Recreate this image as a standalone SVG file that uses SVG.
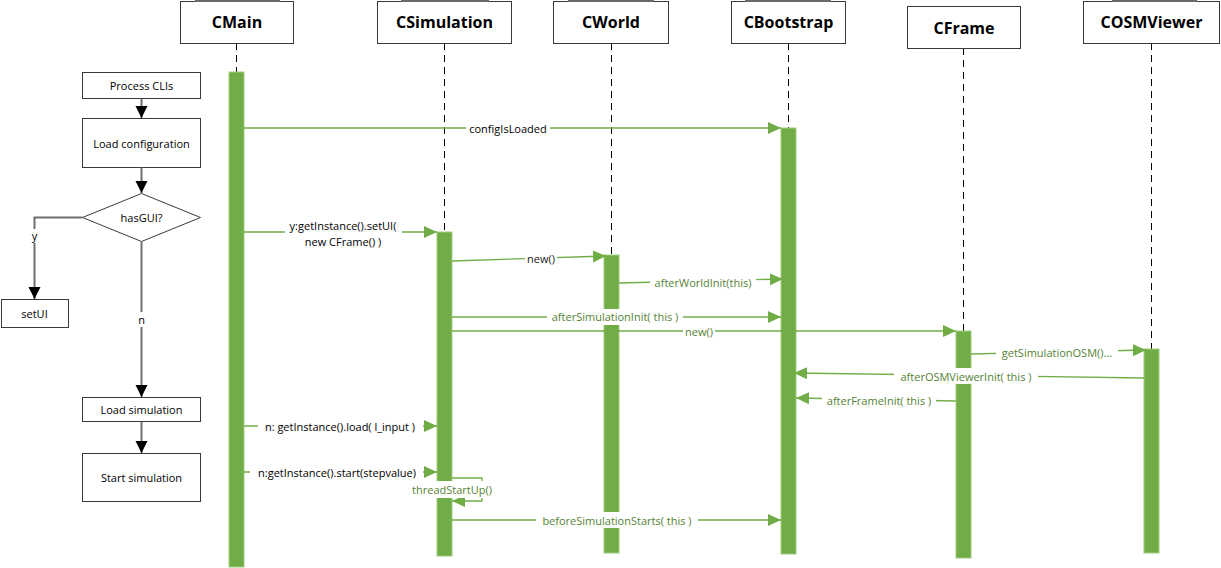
<svg xmlns="http://www.w3.org/2000/svg" width="1221" height="568" viewBox="0 0 1221 568">
<defs>
<style>
.hdr{fill:#fff;stroke:#3a3a3a;stroke-width:1}
.hdrtop{stroke:#6a6a6a;stroke-width:2}
.ht{font-family:"Open Sans","Noto Sans",sans-serif;font-weight:bold;font-size:16px;fill:#000;text-anchor:middle;dominant-baseline:central}
.life{stroke:#000;stroke-width:1;stroke-dasharray:7 5;fill:none}
.act{fill:#70ad47;stroke:#9fcd7f;stroke-width:1}
.msg{stroke:#70ad47;stroke-width:1.3;fill:none}
.lbg{fill:#fff}
.lt{font-family:"Open Sans","Noto Sans",sans-serif;font-size:11px;text-anchor:middle;dominant-baseline:central}
.blk{fill:#000}
.grn{fill:#548235}
.dk{fill:#222}
.fbox{fill:#fff;stroke:#3a3a3a;stroke-width:1}
.fline{stroke:#6f6f6f;stroke-width:2;fill:none}
.ft{font-family:"Open Sans","Noto Sans",sans-serif;font-size:11px;fill:#000;text-anchor:middle;dominant-baseline:central}
</style>
<marker id="ga" markerUnits="userSpaceOnUse" markerWidth="14" markerHeight="14" refX="13" refY="6" orient="auto">
<path d="M0,0 L13,6 L0,12 z" fill="#70ad47"/>
</marker>
<marker id="ba" markerUnits="userSpaceOnUse" markerWidth="14" markerHeight="14" refX="12" refY="6" orient="auto">
<path d="M0,0 L12,6 L0,12 z" fill="#000"/>
</marker>
</defs>
<rect x="0" y="0" width="1221" height="568" fill="#fff"/>

<g id="lifelines">
<line class="life" x1="236.5" y1="43" x2="236.5" y2="72"/>
<line class="life" x1="444.5" y1="43" x2="444.5" y2="232"/>
<line class="life" x1="611.5" y1="43" x2="611.5" y2="255"/>
<line class="life" x1="788.5" y1="43" x2="788.5" y2="128"/>
<line class="life" x1="963.5" y1="48" x2="963.5" y2="331"/>
<line class="life" x1="1151.5" y1="43" x2="1151.5" y2="349"/>
</g>

<g id="CMain">
<rect class="hdr" x="180.5" y="1.5" width="113" height="42"/>
<line class="hdrtop" x1="195" y1="1" x2="280" y2="1"/>
<text class="ht" x="237" y="22">CMain</text>
<rect class="act" x="229" y="72" width="15" height="495"/>
</g>
<g id="CSimulation">
<rect class="hdr" x="377.5" y="1.5" width="134" height="42"/>
<line class="hdrtop" x1="401" y1="1" x2="489" y2="1"/>
<text class="ht" x="444.5" y="22">CSimulation</text>
<rect class="act" x="437" y="232" width="15" height="324"/>
</g>
<g id="CWorld">
<rect class="hdr" x="553.5" y="1.5" width="115" height="42"/>
<line class="hdrtop" x1="568" y1="1" x2="654" y2="1"/>
<text class="ht" x="611" y="22">CWorld</text>
<rect class="act" x="604" y="255" width="15" height="298"/>
</g>
<g id="CBootstrap">
<rect class="hdr" x="731.5" y="1.5" width="114" height="42"/>
<line class="hdrtop" x1="745" y1="1" x2="831" y2="1"/>
<text class="ht" x="788.5" y="22">CBootstrap</text>
<rect class="act" x="781" y="128" width="15" height="426"/>
</g>
<g id="CFrame">
<rect class="hdr" x="907.5" y="6.5" width="113" height="42"/>
<text class="ht" x="964" y="28">CFrame</text>
<rect class="act" x="956" y="331" width="15" height="227"/>
</g>
<g id="COSMViewer">
<rect class="hdr" x="1083.5" y="1.5" width="136" height="42"/>
<line class="hdrtop" x1="1112" y1="1" x2="1197" y2="1"/>
<text class="ht" x="1151.5" y="22">COSMViewer</text>
<rect class="act" x="1144" y="349" width="15" height="204"/>
</g>

<g id="flow-process-clis">
<rect class="fbox" x="82.5" y="72.5" width="118" height="26"/>
<text class="ft" x="141.5" y="85.5">Process CLIs</text>
</g>
<g id="flow-load-config">
<rect class="fbox" x="82.5" y="118.5" width="118" height="49"/>
<text class="ft" x="141.5" y="143">Load configuration</text>
</g>
<g id="flow-hasgui">
<polygon class="fbox" points="141.5,193.5 200.5,217.5 141.5,241.5 82.5,217.5"/>
<text class="ft" x="141.5" y="217">hasGUI?</text>
</g>
<g id="flow-setui">
<rect class="fbox" x="1.5" y="299.5" width="67" height="28"/>
<text class="ft" x="34.5" y="313.5">setUI</text>
</g>
<g id="flow-load-sim">
<rect class="fbox" x="82.5" y="397.5" width="118" height="24"/>
<text class="ft" x="141.5" y="409.5">Load simulation</text>
</g>
<g id="flow-start-sim">
<rect class="fbox" x="82.5" y="453.5" width="118" height="48"/>
<text class="ft" x="141.5" y="477.5">Start simulation</text>
</g>

<g id="connectors">
<!-- flowchart -->
<line class="fline" x1="141.5" y1="98.5" x2="141.5" y2="118" marker-end="url(#ba)"/>
<line class="fline" x1="141.5" y1="167.5" x2="141.5" y2="193" marker-end="url(#ba)"/>
<polyline class="fline" points="82.5,217.5 34.5,217.5 34.5,299" marker-end="url(#ba)"/>
<line class="fline" x1="141.5" y1="241.5" x2="141.5" y2="397" marker-end="url(#ba)"/>
<line class="fline" x1="141.5" y1="421.5" x2="141.5" y2="453" marker-end="url(#ba)"/>
<rect class="lbg" x="29" y="229" width="11" height="14"/>
<text class="ft" x="34.5" y="235.5">y</text>
<rect class="lbg" x="136" y="312" width="11" height="15"/>
<text class="ft" x="141.5" y="319">n</text>

<!-- messages -->
<line class="msg" x1="244" y1="128" x2="781" y2="128" marker-end="url(#ga)"/>
<line class="msg" x1="244" y1="232" x2="437" y2="232" marker-end="url(#ga)"/>
<line class="msg" x1="452" y1="261" x2="606" y2="256" marker-end="url(#ga)"/>
<line class="msg" x1="619" y1="283" x2="783" y2="279" marker-end="url(#ga)"/>
<line class="msg" x1="452" y1="317" x2="781" y2="317" marker-end="url(#ga)"/>
<line class="msg" x1="452" y1="331" x2="956" y2="331" marker-end="url(#ga)"/>
<line class="msg" x1="971" y1="354" x2="1146" y2="350" marker-end="url(#ga)"/>
<line class="msg" x1="1144" y1="378" x2="794" y2="373" marker-end="url(#ga)"/>
<line class="msg" x1="956" y1="401" x2="796" y2="398" marker-end="url(#ga)"/>
<line class="msg" x1="244" y1="426" x2="437" y2="426" marker-end="url(#ga)"/>
<line class="msg" x1="244" y1="472" x2="437" y2="472" marker-end="url(#ga)"/>
<polyline class="msg" points="452,478 482,478 482,501 452,501" marker-end="url(#ga)"/>
<line class="msg" x1="452" y1="520" x2="781" y2="520" marker-end="url(#ga)"/>

<!-- labels -->
<rect class="lbg" x="466" y="121" width="84" height="14"/>
<text class="lt blk" x="508" y="128">configIsLoaded</text>

<rect class="lbg" x="285" y="219" width="117" height="30"/>
<text class="lt blk" x="343" y="225.5">y:getInstance().setUI(</text>
<text class="lt blk" x="343" y="241">new CFrame() )</text>

<rect class="lbg" x="525" y="251" width="32" height="14"/>
<text class="lt dk" x="541" y="258">new()</text>

<rect class="lbg" x="650" y="275" width="106" height="14"/>
<text class="lt grn" x="703" y="282">afterWorldInit(this)</text>

<rect class="lbg" x="547" y="309" width="136" height="16"/>
<text class="lt grn" x="615" y="316.5">afterSimulationInit( this )</text>

<rect class="lbg" x="683" y="324" width="32" height="14"/>
<text class="lt grn" x="699" y="331">new()</text>

<rect class="lbg" x="996" y="345" width="122" height="14"/>
<text class="lt grn" x="1057" y="352">getSimulationOSM()...</text>

<rect class="lbg" x="894" y="368" width="144" height="16"/>
<text class="lt grn" x="966" y="376">afterOSMViewerInit( this )</text>

<rect class="lbg" x="822" y="393" width="114" height="14"/>
<text class="lt grn" x="879" y="400">afterFrameInit( this )</text>

<rect class="lbg" x="258" y="419" width="165" height="14"/>
<text class="lt blk" x="340" y="426">n: getInstance().load( l_input )</text>

<rect class="lbg" x="250" y="465" width="173" height="14"/>
<text class="lt blk" x="337" y="472">n:getInstance().start(stepvalue)</text>

<rect class="lbg" x="408" y="481" width="88" height="17"/>
<text class="lt grn" x="452" y="489">threadStartUp()</text>

<rect class="lbg" x="536" y="512" width="162" height="16"/>
<text class="lt grn" x="617" y="520">beforeSimulationStarts( this )</text>
</g>
</svg>
